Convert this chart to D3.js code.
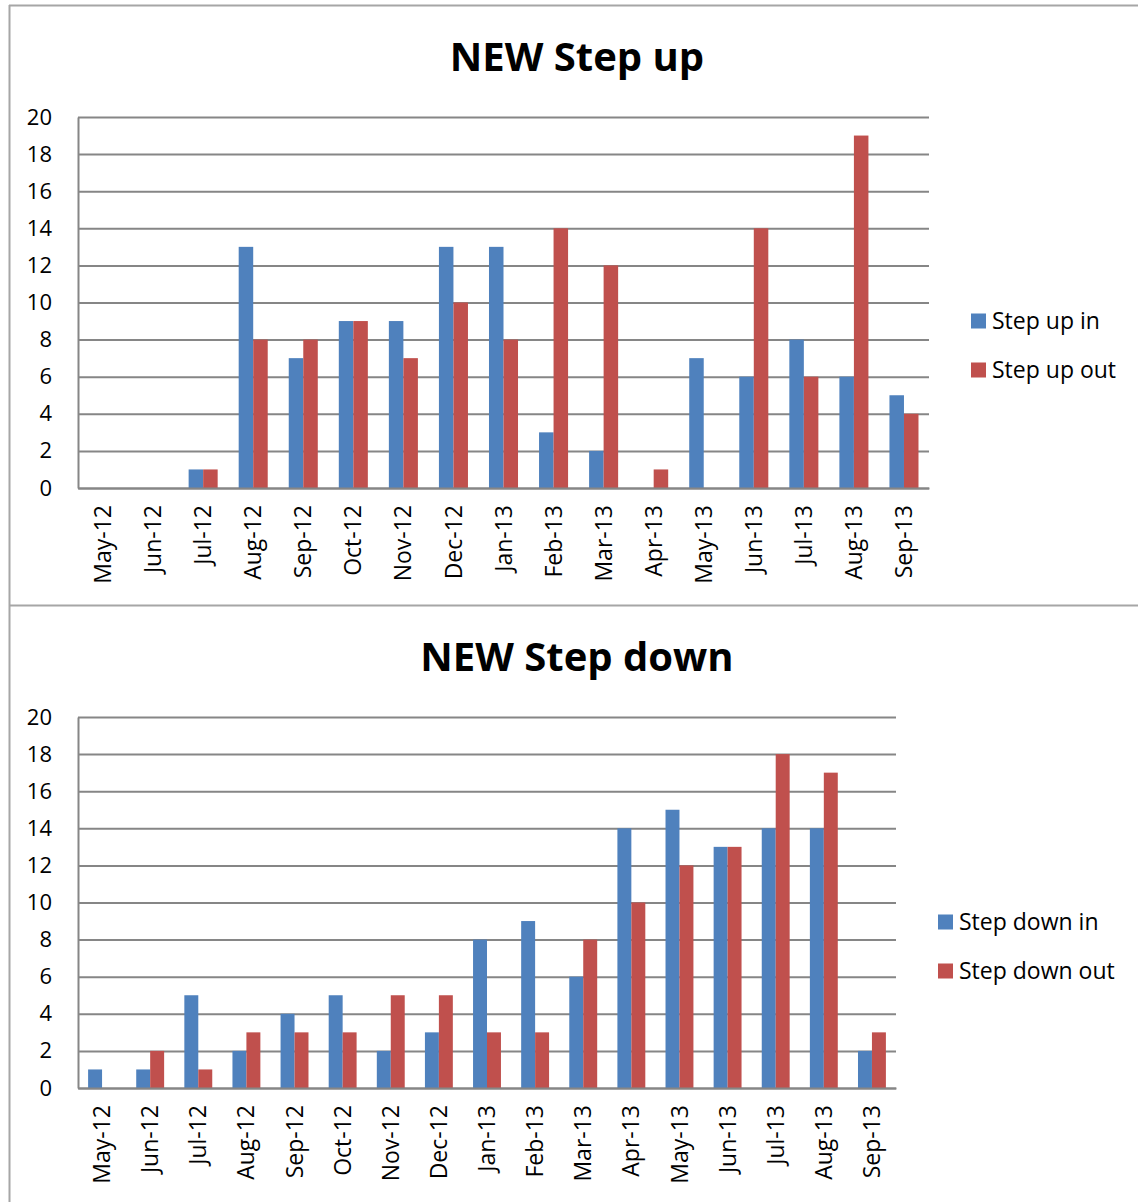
<!DOCTYPE html>
<html>
<head>
<meta charset="utf-8">
<script src="https://cdn.jsdelivr.net/npm/d3@7"></script>
<style>
  body { margin: 0; background: #fff; }
  svg text { font-family: "Open Sans", "Noto Sans", sans-serif; fill: #000; }
</style>
</head>
<body>
<svg id="chart" width="1138" height="1202"></svg>
<script>
const months = ["May-12", "Jun-12", "Jul-12", "Aug-12", "Sep-12", "Oct-12", "Nov-12", "Dec-12",
  "Jan-13", "Feb-13", "Mar-13", "Apr-13", "May-13", "Jun-13", "Jul-13", "Aug-13", "Sep-13"];
const yTicks = [0, 2, 4, 6, 8, 10, 12, 14, 16, 18, 20];

const stepUpIn = [0, 0, 1, 13, 7, 9, 9, 13, 13, 3, 2, 0, 7, 6, 8, 6, 5];
const stepUpOut = [0, 0, 1, 8, 8, 9, 7, 10, 8, 14, 12, 1, 0, 14, 6, 19, 4];
const stepDownIn = [1, 1, 5, 2, 4, 5, 2, 3, 8, 9, 6, 14, 15, 13, 14, 14, 2];
const stepDownOut = [0, 2, 1, 3, 3, 3, 5, 5, 3, 3, 8, 10, 12, 13, 18, 17, 3];

const colors = ["#4F81BD", "#C0504D"];
const gridColor = "#868686";
const borderColor = "#a6a6a6";

const svg = d3.select("#chart");

// frame round the two charts
svg.append("line").attr("x1", 9).attr("x2", 1138).attr("y1", 5.5).attr("y2", 5.5)
  .attr("stroke", borderColor).attr("stroke-width", 2);
svg.append("line").attr("x1", 9).attr("x2", 1138).attr("y1", 605.5).attr("y2", 605.5)
  .attr("stroke", borderColor).attr("stroke-width", 2);
svg.append("line").attr("x1", 9.5).attr("x2", 9.5).attr("y1", 5).attr("y2", 1202)
  .attr("stroke", borderColor).attr("stroke-width", 2);

function drawChart(cfg) {
  const g = svg.append("g");
  const x = d3.scaleBand().domain(months)
    .range([cfg.left, cfg.right]).paddingInner(0.42).paddingOuter(0.21);
  const keys = [0, 1];
  const xs = d3.scaleBand().domain(keys).range([0, x.bandwidth()]);
  const y = d3.scaleLinear().domain([0, 20]).range([cfg.bottom, cfg.top]);

  g.append("text")
    .attr("x", cfg.titleX).attr("y", cfg.titleY)
    .attr("text-anchor", "middle")
    .attr("font-size", 40).attr("font-weight", "bold")
    .text(cfg.title);

  const yAxis = g.append("g")
    .attr("transform", `translate(${cfg.left},0)`)
    .call(d3.axisLeft(y).tickValues(yTicks)
      .tickSizeInner(-(cfg.right - cfg.left)).tickSizeOuter(0).tickPadding(26));
  yAxis.select(".domain").attr("stroke", gridColor).attr("stroke-width", 2);
  yAxis.selectAll(".tick line").attr("stroke", gridColor).attr("stroke-width", 2);
  yAxis.selectAll(".tick text").attr("font-size", 22).attr("fill", "#000");

  const data = months.map((m, i) => ({ m, v: [cfg.series[0][i], cfg.series[1][i]] }));
  g.selectAll(".grp").data(data).join("g")
    .attr("transform", d => `translate(${x(d.m)},0)`)
    .selectAll("rect").data(d => d.v.map((v, k) => ({ k, v })))
    .join("rect")
    .attr("x", d => xs(d.k))
    .attr("width", xs.bandwidth())
    .attr("y", d => y(d.v))
    .attr("height", d => y(0) - y(d.v))
    .attr("fill", d => colors[d.k]);

  const xAxis = g.append("g")
    .attr("transform", `translate(0,${cfg.bottom})`)
    .call(d3.axisBottom(x).tickSize(0).tickPadding(0));
  xAxis.select(".domain").attr("stroke", gridColor).attr("stroke-width", 2);
  xAxis.selectAll(".tick text")
    .attr("font-size", 23).attr("fill", "#000")
    .attr("transform", "rotate(-90)")
    .attr("text-anchor", "end")
    .attr("x", -17).attr("y", 0).attr("dy", "0.35em");

  const legend = g.append("g");
  cfg.legend.forEach((name, i) => {
    const ly = cfg.legendY + i * 49;
    legend.append("rect")
      .attr("x", cfg.legendX).attr("y", ly - 7.5)
      .attr("width", 15).attr("height", 15)
      .attr("fill", colors[i]);
    legend.append("text")
      .attr("x", cfg.legendX + 21).attr("y", ly)
      .attr("dy", "0.35em").attr("font-size", 23)
      .text(name);
  });
}

drawChart({
  title: "NEW Step up", titleX: 577, titleY: 71,
  left: 78, right: 929, top: 117, bottom: 488,
  series: [stepUpIn, stepUpOut],
  legend: ["Step up in", "Step up out"], legendX: 971, legendY: 321
});

drawChart({
  title: "NEW Step down", titleX: 577, titleY: 671,
  left: 78, right: 896, top: 717, bottom: 1088,
  series: [stepDownIn, stepDownOut],
  legend: ["Step down in", "Step down out"], legendX: 938, legendY: 922
});
</script>
</body>
</html>
